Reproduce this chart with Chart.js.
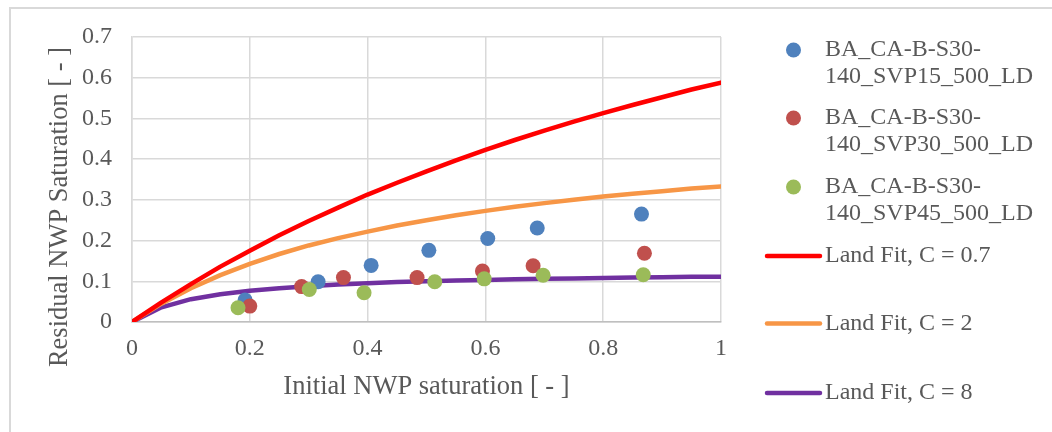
<!DOCTYPE html>
<html>
<head>
<meta charset="utf-8">
<script src="https://cdn.jsdelivr.net/npm/chart.js@4.4.1/dist/chart.umd.min.js"></script>
<style>
html, body { margin: 0; padding: 0; background: #fff; }
#wrap { position: relative; width: 1052px; height: 432px; overflow: hidden; }
#frame { position: absolute; left: 9px; top: 7px; width: 1100px; height: 500px; border: 2px solid #d9d9d9; box-sizing: border-box; }
#landChart { position: absolute; left: 0; top: 0; }
</style>
</head>
<body>
<div id="wrap">
  <div id="frame"></div>
  <canvas id="landChart" width="1052" height="432"></canvas>
</div>
<script>
// measured samples
var sampleNames = ["BA_CA-B-S30-140_SVP15_500_LD", "BA_CA-B-S30-140_SVP30_500_LD", "BA_CA-B-S30-140_SVP45_500_LD"];
var svp15X = [0.192, 0.316, 0.406, 0.504, 0.604, 0.688, 0.865];
var svp15Y = [0.054, 0.099, 0.139, 0.176, 0.205, 0.231, 0.265];
var svp30X = [0.200, 0.288, 0.359, 0.484, 0.595, 0.681, 0.870];
var svp30Y = [0.039, 0.087, 0.109, 0.109, 0.125, 0.138, 0.169];
var svp45X = [0.180, 0.301, 0.394, 0.514, 0.598, 0.698, 0.868];
var svp45Y = [0.035, 0.080, 0.072, 0.099, 0.106, 0.115, 0.116];

// Land fit curves
var fitNames = ["Land Fit, C = 0.7", "Land Fit, C = 2", "Land Fit, C = 8"];
var fitX = [0, 0.05, 0.1, 0.15, 0.2, 0.25, 0.3, 0.35, 0.4, 0.45, 0.5, 0.55, 0.6, 0.65, 0.7, 0.75, 0.8, 0.85, 0.9, 0.95, 1];
var fitC07 = [0, 0.048, 0.093, 0.136, 0.175, 0.213, 0.248, 0.281, 0.313, 0.342, 0.370, 0.397, 0.423, 0.447, 0.470, 0.492, 0.513, 0.533, 0.552, 0.571, 0.588];
var fitC2 = [0, 0.045, 0.083, 0.115, 0.143, 0.167, 0.188, 0.206, 0.222, 0.237, 0.250, 0.262, 0.273, 0.283, 0.292, 0.300, 0.308, 0.315, 0.321, 0.328, 0.333];
var fitC8 = [0, 0.036, 0.056, 0.068, 0.077, 0.083, 0.088, 0.092, 0.095, 0.098, 0.100, 0.102, 0.103, 0.105, 0.106, 0.107, 0.108, 0.109, 0.110, 0.111, 0.111];

var xTicks = [0, 0.2, 0.4, 0.6, 0.8, 1];
var yTicks = [0, 0.1, 0.2, 0.3, 0.4, 0.5, 0.6, 0.7];
var xTitle = "Initial NWP saturation [ - ]";
var yTitle = "Residual NWP Saturation [ - ]";

var textColor = "#595959";
var serif = "'Liberation Serif', 'Times New Roman', serif";

function pairs(xs, ys) {
    var out = [];
    xs.forEach(function(x, i) { out.push({x: x, y: ys[i]}); });
    return out;
}

function pointSet(label, xs, ys, color, order) {
    return {
        label: label,
        data: pairs(xs, ys),
        showLine: false,
        pointRadius: 7.5,
        pointHoverRadius: 7.5,
        pointBorderWidth: 0,
        backgroundColor: color,
        borderColor: color,
        order: order
    };
}

function lineSet(label, ys, color) {
    return {
        label: label,
        data: pairs(fitX, ys),
        showLine: true,
        pointRadius: 0,
        borderWidth: 4.5,
        borderColor: color,
        backgroundColor: color,
        borderCapStyle: "round",
        borderJoinStyle: "round",
        tension: 0,
        order: 10
    };
}

// wraps a label at hyphens so it fits a width
function wrapLabel(ctx, text, maxW) {
    if (ctx.measureText(text).width <= maxW) return [text];
    var parts = text.split(/(?<=-)/);
    var lines = [];
    var cur = "";
    parts.forEach(function(p) {
        if (cur && ctx.measureText(cur + p).width > maxW) {
            lines.push(cur);
            cur = p;
        } else {
            cur += p;
        }
    });
    if (cur) lines.push(cur);
    return lines;
}

var sideLegend = {
    id: "sideLegend",
    afterDraw: function(chart) {
        var ctx = chart.ctx;
        var rows = [50, 118, 187, 256, 323.5, 393];
        ctx.save();
        ctx.font = "24px " + serif;
        ctx.textBaseline = "middle";
        ctx.textAlign = "left";
        chart.data.datasets.forEach(function(ds, i) {
            var y = rows[i];
            if (ds.showLine) {
                ctx.strokeStyle = ds.borderColor;
                ctx.lineWidth = 4.5;
                ctx.lineCap = "round";
                ctx.beginPath();
                ctx.moveTo(767, y);
                ctx.lineTo(820, y);
                ctx.stroke();
            } else {
                ctx.fillStyle = ds.backgroundColor;
                ctx.beginPath();
                ctx.arc(793.5, y, 7.5, 0, Math.PI * 2);
                ctx.fill();
            }
            ctx.fillStyle = textColor;
            wrapLabel(ctx, ds.label, 215).forEach(function(t, k) {
                ctx.fillText(t, 825, y + k * 27);
            });
        });
        // y axis title, sits lower than the plot centre
        ctx.translate(60, 207);
        ctx.rotate(-Math.PI / 2);
        ctx.font = "26.5px " + serif;
        ctx.textAlign = "center";
        ctx.fillStyle = textColor;
        ctx.fillText(yTitle, 0, 0);
        ctx.restore();
    }
};

var chart = new Chart("landChart", {
    type: "scatter",
    data: {
        datasets: [
            pointSet(sampleNames[0], svp15X, svp15Y, "#4f81bd", 3),
            pointSet(sampleNames[1], svp30X, svp30Y, "#c0504d", 2),
            pointSet(sampleNames[2], svp45X, svp45Y, "#9bbb59", 1),
            lineSet(fitNames[0], fitC07, "#ff0000"),
            lineSet(fitNames[1], fitC2, "#f79646"),
            lineSet(fitNames[2], fitC8, "#7030a0")
        ]
    },
    options: {
        responsive: false,
        animation: false,
        layout: {padding: {left: 0, right: 331, top: 37, bottom: 0}},
        plugins: {
            legend: {display: false},
            title: {display: false},
            tooltip: {enabled: false}
        },
        scales: {
            x: {
                type: "linear",
                min: 0,
                max: 1,
                afterBuildTicks: function(s) { s.ticks = xTicks.map(function(v) { return {value: v}; }); },
                afterFit: function(s) { s.height = 110; },
                grid: {color: "#d9d9d9", lineWidth: 1.5, drawTicks: false},
                border: {color: "#bfbfbf", width: 1.5},
                ticks: {
                    color: textColor,
                    font: {family: serif, size: 24},
                    padding: 12,
                    maxRotation: 0,
                    callback: function(v) { return String(+v.toFixed(1)); }
                },
                title: {
                    display: true,
                    text: xTitle,
                    color: textColor,
                    font: {family: serif, size: 26.5},
                    padding: {top: 0, bottom: 29}
                }
            },
            y: {
                type: "linear",
                min: 0,
                max: 0.7,
                afterBuildTicks: function(s) { s.ticks = yTicks.map(function(v) { return {value: v}; }); },
                afterFit: function(s) { s.width = 132; },
                grid: {color: "#d9d9d9", lineWidth: 1.5, drawTicks: false},
                border: {color: "#d9d9d9", width: 1.5},
                ticks: {
                    color: textColor,
                    font: {family: serif, size: 24},
                    padding: 20,
                    callback: function(v) { return String(+v.toFixed(1)); }
                },
                title: {display: false}
            }
        }
    },
    plugins: [sideLegend]
});
</script>
</body>
</html>
